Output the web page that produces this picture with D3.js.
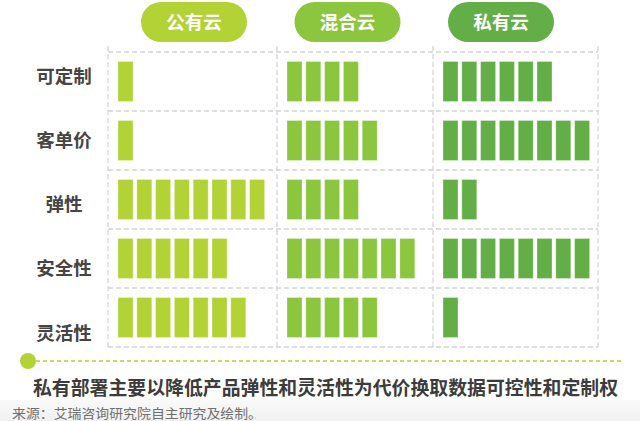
<!doctype html>
<html>
<head>
<meta charset="utf-8">
<title>云部署方式对比</title>
<script src="https://cdn.jsdelivr.net/npm/d3@7"></script>
<style>
    html, body { margin: 0; padding: 0; background: #fff; }
    svg { display: block; font-family: "Noto Sans CJK SC", "Noto Sans", sans-serif; }
</style>
</head>
<body>
<svg id="chart" width="640" height="421"></svg>
<script>
// data
var clouds = ['公有云', '混合云', '私有云'];
var features = ['可定制', '客单价', '弹性', '安全性', '灵活性'];
var publicCloud = [1, 1, 8, 6, 7];
var hybridCloud = [4, 5, 4, 7, 5];
var privateCloud = [6, 8, 2, 8, 1];
var cloudColors = ['#b2d235', '#8cc63f', '#63ae46'];
var title = '私有部署主要以降低产品弹性和灵活性为代价换取数据可控性和定制权';
var source = '来源：艾瑞咨询研究院自主研究及绘制。';

var series = [publicCloud, hybridCloud, privateCloud];

var svg = d3.select('#chart');

// scales
var colLeft = d3.scaleOrdinal().domain(clouds).range([108, 277, 433]);
var colRight = d3.scaleOrdinal().domain(clouds).range([277, 433, 598]);
var pillX = d3.scalePoint().domain(clouds).range([194, 501]);
var color = d3.scaleOrdinal().domain(clouds).range(cloudColors);
var y = d3.scaleBand().domain(features).range([52, 347]);
var labelY = d3.scalePoint().domain(features).range([76, 333]);
var unit = d3.scaleLinear().domain([0, 1]).range([10, 28.8]); // bar slot position inside a column

// bottom grey band
var grad = svg.append('defs').append('linearGradient')
    .attr('id', 'band').attr('x1', 0).attr('y1', 0).attr('x2', 0).attr('y2', 1);
grad.append('stop').attr('offset', 0).attr('stop-color', '#fafafa');
grad.append('stop').attr('offset', 1).attr('stop-color', '#f0f0f0');
svg.append('rect')
    .attr('x', 0).attr('y', 400).attr('width', 640).attr('height', 21)
    .attr('fill', 'url(#band)');

// header pills
var pills = svg.selectAll('.pill').data(clouds).enter().append('g')
    .attr('class', 'pill')
    .attr('transform', function(d){ return 'translate(' + pillX(d) + ',22)'; });
pills.append('rect')
    .attr('x', -53).attr('y', -20).attr('width', 106).attr('height', 40)
    .attr('rx', 20).attr('ry', 20)
    .attr('fill', function(d){ return color(d); });
pills.append('text')
    .attr('text-anchor', 'middle').attr('dy', '0.36em')
    .attr('fill', '#fff').attr('font-size', 18.5).attr('font-weight', 'bold')
    .text(function(d){ return d; });

// dashed grid
var grid = svg.append('g')
    .attr('stroke', '#d4d4d4').attr('stroke-width', 1.3)
    .attr('stroke-dasharray', '5,3').attr('fill', 'none');
var rowEdges = features.map(function(f){ return y(f); }).concat([y.range()[1]]);
grid.selectAll('.h').data(rowEdges).enter().append('line')
    .attr('x1', colLeft(clouds[0])).attr('x2', colRight(clouds[2]))
    .attr('y1', function(d){ return d; }).attr('y2', function(d){ return d; });
var colEdges = clouds.map(function(c){ return colLeft(c); }).concat([colRight(clouds[2])]);
grid.selectAll('.v').data(colEdges).enter().append('line')
    .attr('y1', 46).attr('y2', 350)
    .attr('x1', function(d){ return d; }).attr('x2', function(d){ return d; });

// row labels
svg.selectAll('.rowlabel').data(features).enter().append('text')
    .attr('class', 'rowlabel')
    .attr('x', 64).attr('y', function(d){ return labelY(d); })
    .attr('dy', '0.36em').attr('text-anchor', 'middle')
    .attr('font-size', 18.5).attr('font-weight', 'bold').attr('fill', '#454545')
    .text(function(d){ return d; });

// bars
var cells = [];
clouds.forEach(function(c, ci){
    features.forEach(function(f, fi){
        d3.range(series[ci][fi]).forEach(function(i){
            cells.push({cloud: c, feature: f, i: i});
        });
    });
});
var barH = 40;
svg.selectAll('.bar').data(cells).enter().append('rect')
    .attr('class', 'bar')
    .attr('x', function(d){ return colLeft(d.cloud) + unit(d.i); })
    .attr('y', function(d){ return y(d.feature) + (y.bandwidth() - barH) / 2; })
    .attr('width', 15).attr('height', barH)
    .attr('fill', function(d){ return color(d.cloud); })
    .attr('stroke', '#fff').attr('stroke-opacity', 0.3)
    .attr('stroke-width', 1);

// bottom conclusion
svg.append('line')
    .attr('x1', 36).attr('x2', 621).attr('y1', 361).attr('y2', 361)
    .attr('stroke', cloudColors[0]).attr('stroke-width', 1.5)
    .attr('stroke-dasharray', '4,3');
svg.append('circle')
    .attr('cx', 28).attr('cy', 361).attr('r', 8)
    .attr('fill', cloudColors[0]);
svg.append('text')
    .attr('x', 33).attr('y', 388).attr('dy', '0.36em')
    .attr('font-size', 18.9).attr('font-weight', 'bold').attr('fill', '#3c3c3c')
    .attr('textLength', 585).attr('lengthAdjust', 'spacingAndGlyphs')
    .text(title);
svg.append('text')
    .attr('x', 12).attr('y', 413).attr('dy', '0.36em')
    .attr('font-size', 13).attr('fill', '#707070')
    .attr('textLength', 250).attr('lengthAdjust', 'spacingAndGlyphs')
    .text(source);
</script>
</body>
</html>
